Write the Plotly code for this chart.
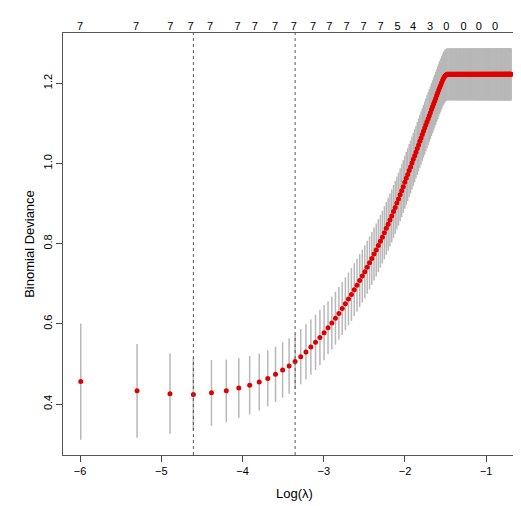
import numpy as np
import plotly.graph_objects as go

# lambda grid used for cross-validation
lambdas = [
    0.0025, 0.005, 0.0075, 0.01, 0.0125, 0.015, 0.0175, 0.02, 0.0225, 0.025,
    0.0275, 0.03, 0.0325, 0.035, 0.0375, 0.04, 0.0425, 0.045, 0.0475, 0.05,
    0.0525, 0.055, 0.0575, 0.06, 0.0625, 0.065, 0.0675, 0.07, 0.0725, 0.075,
    0.0775, 0.08, 0.0825, 0.085, 0.0875, 0.09, 0.0925, 0.095, 0.0975, 0.1,
    0.1025, 0.105, 0.1075, 0.11, 0.1125, 0.115, 0.1175, 0.12, 0.1225, 0.125,
    0.1275, 0.13, 0.1325, 0.135, 0.1375, 0.14, 0.1425, 0.145, 0.1475, 0.15,
    0.1525, 0.155, 0.1575, 0.16, 0.1625, 0.165, 0.1675, 0.17, 0.1725, 0.175,
    0.1775, 0.18, 0.1825, 0.185, 0.1875, 0.19, 0.1925, 0.195, 0.1975, 0.2,
    0.2025, 0.205, 0.2075, 0.21, 0.2125, 0.215, 0.2175, 0.22, 0.2225, 0.225,
    0.2275, 0.23, 0.2325, 0.235, 0.2375, 0.24, 0.2425, 0.245, 0.2475, 0.25,
    0.2525, 0.255, 0.2575, 0.26, 0.2625, 0.265, 0.2675, 0.27, 0.2725, 0.275,
    0.2775, 0.28, 0.2825, 0.285, 0.2875, 0.29, 0.2925, 0.295, 0.2975, 0.3,
    0.3025, 0.305, 0.3075, 0.31, 0.3125, 0.315, 0.3175, 0.32, 0.3225, 0.325,
    0.3275, 0.33, 0.3325, 0.335, 0.3375, 0.34, 0.3425, 0.345, 0.3475, 0.35,
    0.3525, 0.355, 0.3575, 0.36, 0.3625, 0.365, 0.3675, 0.37, 0.3725, 0.375,
    0.3775, 0.38, 0.3825, 0.385, 0.3875, 0.39, 0.3925, 0.395, 0.3975, 0.4,
    0.4025, 0.405, 0.4075, 0.41, 0.4125, 0.415, 0.4175, 0.42, 0.4225, 0.425,
    0.4275, 0.43, 0.4325, 0.435, 0.4375, 0.44, 0.4425, 0.445, 0.4475, 0.45,
    0.4525, 0.455, 0.4575, 0.46, 0.4625, 0.465, 0.4675, 0.47, 0.4725, 0.475,
    0.4775, 0.48, 0.4825, 0.485, 0.4875, 0.49, 0.4925, 0.495, 0.4975, 0.5,
]

# mean cross-validated binomial deviance
cvm = [
    0.456, 0.433, 0.426, 0.424, 0.428, 0.433, 0.440, 0.447, 0.455, 0.464,
    0.474, 0.485, 0.495, 0.506, 0.518, 0.530, 0.542, 0.554, 0.566, 0.578,
    0.590, 0.602, 0.614, 0.626, 0.638, 0.650, 0.662, 0.673, 0.685, 0.696,
    0.708, 0.719, 0.730, 0.741, 0.752, 0.763, 0.774, 0.784, 0.795, 0.806,
    0.816, 0.827, 0.838, 0.848, 0.859, 0.869, 0.880, 0.890, 0.901, 0.911,
    0.922, 0.932, 0.942, 0.953, 0.963, 0.972, 0.982, 0.991, 1.001, 1.010,
    1.019, 1.028, 1.037, 1.046, 1.055, 1.063, 1.072, 1.080, 1.088, 1.096,
    1.104, 1.111, 1.119, 1.126, 1.134, 1.141, 1.148, 1.155, 1.162, 1.169,
    1.176, 1.183, 1.189, 1.195, 1.201, 1.207, 1.212, 1.216, 1.219, 1.221,
] + [1.222] * 110

# standard error of the deviance
cvsd = [
    0.145, 0.117, 0.100, 0.090, 0.082, 0.078, 0.075, 0.073, 0.071, 0.070,
] + [0.069] * 10 + [0.066] * 68 + [0.065] * 112

lambda_min = 0.01
lambda_1se = 0.035

# number of non-zero coefficients shown on top axis
nzero_pos = [-6.0, -5.31, -4.89, -4.64, -4.40, -4.06, -3.85, -3.60, -3.37, -3.13,
             -2.93, -2.72, -2.51, -2.30, -2.09, -1.90, -1.69, -1.49, -1.28, -1.09, -0.89]
nzero_lab = ["7", "7", "7", "7", "7", "7", "7", "7", "7", "7",
             "7", "7", "7", "7", "5", "4", "3", "0", "0", "0", "0"]

log_lam = np.log(lambdas)

fig = go.Figure()
fig.add_trace(go.Scatter(
    x=log_lam, y=cvm, mode="markers",
    marker=dict(color="#e00000", size=5),
    error_y=dict(type="data", array=cvsd, color="#b8b8b8", thickness=1.5, width=0),
    showlegend=False,
))
# dummy trace to activate top axis
fig.add_trace(go.Scatter(x=[nzero_pos[0]], y=[cvm[0]], xaxis="x2", mode="markers",
                         marker=dict(opacity=0), showlegend=False, hoverinfo="skip"))

for lam in [lambda_min, lambda_1se]:
    fig.add_vline(x=np.log(lam), line=dict(color="#555", width=1, dash="dot"))

xr = [-6.21, -0.51]
fig.update_layout(
    width=521, height=506,
    margin=dict(l=55, r=3, t=25, b=59, autoexpand=False),
    paper_bgcolor="white", plot_bgcolor="white",
    font=dict(family="Liberation Sans, Arial", size=11, color="black"),
    xaxis=dict(range=xr, tickvals=[-6, -5, -4, -3, -2, -1], ticks="outside",
               ticklen=6, showgrid=False, zeroline=False, showline=True,
               linecolor="#555", mirror=True, automargin=False,
               title=dict(text="Log(λ)", standoff=12)),
    xaxis2=dict(range=xr, overlaying="x", side="top", tickvals=nzero_pos,
                ticktext=nzero_lab, ticks="", showgrid=False, zeroline=False,
                showline=False, automargin=False),
    yaxis=dict(range=[0.273, 1.325], tickvals=[0.4, 0.6, 0.8, 1.0, 1.2],
               ticktext=["0.4", "0.6", "0.8", "1.0", "1.2"], tickangle=-90,
               ticks="outside", ticklen=6, showgrid=False, zeroline=False,
               showline=True, linecolor="#555", mirror=True, automargin=False,
               title=dict(text="Binomial Deviance", standoff=4)),
)

fig.write_html("out.html")
